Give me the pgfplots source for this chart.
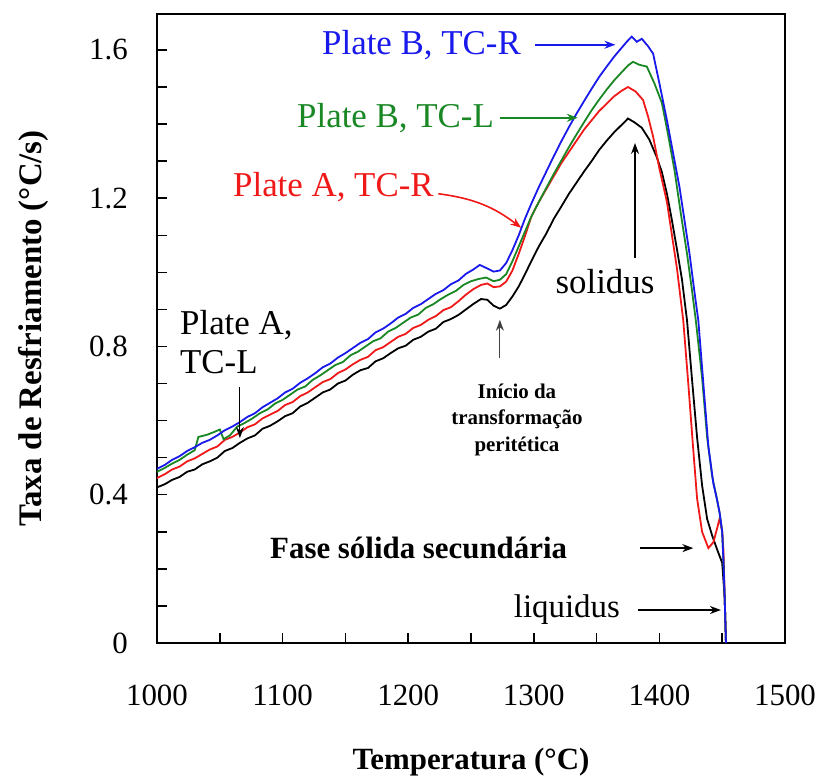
\documentclass[border=0pt]{standalone}
\usepackage{fontspec}
\setmainfont{Liberation Serif}
\usepackage{pgfplots}
\pgfplotsset{compat=1.18}
\usetikzlibrary{arrows.meta}
\definecolor{cblue}{RGB}{25,25,235}
\definecolor{cgreen}{RGB}{25,135,35}
\definecolor{cred}{RGB}{240,25,25}
\tikzset{ar/.style={-{Stealth[length=11bp,width=8bp]}, line width=1.6bp}}
\begin{document}
\begin{tikzpicture}
\path[use as bounding box] (-157bp,-137bp) rectangle (667bp,643bp);
\begin{axis}[
  at={(0,0)}, anchor=south west,
  width=628bp, height=629bp, scale only axis,
  xmin=1000, xmax=1500, ymin=0, ymax=1.697,
  clip=false,
  xtick={1000,1050,1100,1150,1200,1250,1300,1350,1400,1450,1500},
  xticklabels={1000,,1100,,1200,,1300,,1400,,1500},
  ytick={0,0.1,0.2,0.3,0.4,0.5,0.6,0.7,0.8,0.9,1.0,1.1,1.2,1.3,1.4,1.5,1.6},
  yticklabels={0,,,,0.4,,,,0.8,,,,1.2,,,,1.6},
  tick pos=left, tick align=inside,
  major tick length=10bp,
  axis line style={line width=1.5bp},
  every tick/.style={line width=1.5bp, black},
  xticklabel style={font=\fontsize{31}{31}\selectfont, anchor=center, yshift=-52bp},
  yticklabel style={font=\fontsize{31}{31}\selectfont, anchor=east, inner sep=0pt, xshift=-29bp},
  xlabel={Temperatura (°C)},
  ylabel={Taxa de Resfriamento (°C/s)},
  every axis x label/.style={at={(axis description cs:0.5,-0.189)}, anchor=center, font=\bfseries\fontsize{31}{31}\selectfont},
  every axis y label/.style={at={(axis description cs:-0.1975,0.5)}, rotate=90, anchor=center, font=\bfseries\fontsize{33}{33}\selectfont},
]
% Plate A, TC-L (black)
\addplot[black, line width=1.8bp] coordinates {
(1000,0.420)(1006,0.428)(1012,0.440)(1018,0.448)(1024,0.462)(1030,0.468)(1036,0.482)(1042,0.490)(1048,0.500)(1054,0.518)
(1060,0.526)(1066,0.540)(1072,0.552)(1078,0.560)(1084,0.578)(1090,0.586)(1096,0.598)(1102,0.612)(1108,0.620)(1114,0.638)
(1120,0.648)(1126,0.662)(1132,0.676)(1138,0.684)(1144,0.700)(1150,0.708)(1156,0.724)(1162,0.736)(1168,0.742)(1174,0.760)
(1180,0.768)(1186,0.782)(1192,0.795)(1198,0.802)(1204,0.818)(1210,0.826)(1216,0.840)(1222,0.848)(1228,0.866)(1234,0.874)
(1240,0.885)(1246,0.900)(1252,0.915)(1258,0.928)(1263,0.926)(1268,0.910)(1273,0.902)(1278,0.912)(1283,0.935)(1288,0.962)
(1293,0.995)(1298,1.030)(1304,1.070)(1310,1.105)(1316,1.145)(1322,1.178)(1328,1.212)(1334,1.242)(1340,1.272)(1346,1.300)
(1352,1.330)(1358,1.355)(1364,1.378)(1370,1.398)(1375,1.415)(1380,1.405)(1386,1.390)(1392,1.358)(1398,1.310)(1402,1.270)
(1406,1.212)(1410,1.140)(1414,1.062)(1418,0.980)(1422,0.870)(1426,0.710)(1430,0.555)(1434,0.425)(1438,0.335)(1442,0.290)
(1446,0.252)(1450,0.216)(1452,0.120)(1453,0.000)
};
% Plate A, TC-R (red)
\addplot[cred, line width=1.8bp] coordinates {
(1000,0.445)(1006,0.455)(1012,0.468)(1018,0.476)(1024,0.490)(1030,0.498)(1036,0.510)(1042,0.522)(1048,0.530)(1054,0.548)
(1060,0.556)(1066,0.568)(1072,0.582)(1078,0.590)(1084,0.606)(1090,0.616)(1096,0.626)(1102,0.642)(1108,0.650)(1114,0.666)
(1120,0.676)(1126,0.690)(1132,0.704)(1138,0.712)(1144,0.728)(1150,0.738)(1156,0.752)(1162,0.764)(1168,0.772)(1174,0.790)
(1180,0.798)(1186,0.812)(1192,0.826)(1198,0.834)(1204,0.850)(1210,0.858)(1216,0.872)(1222,0.882)(1228,0.898)(1234,0.906)
(1240,0.922)(1246,0.940)(1252,0.955)(1258,0.966)(1263,0.970)(1268,0.960)(1273,0.962)(1278,0.975)(1283,1.005)(1288,1.050)
(1293,1.098)(1298,1.150)(1304,1.190)(1310,1.225)(1316,1.260)(1322,1.295)(1328,1.325)(1334,1.355)(1340,1.385)(1346,1.410)
(1352,1.435)(1358,1.455)(1364,1.475)(1370,1.490)(1375,1.500)(1381,1.488)(1387,1.465)(1391,1.420)(1395,1.366)(1400,1.280)
(1406,1.190)(1410,1.100)(1414,1.010)(1419,0.870)(1423,0.700)(1427,0.520)(1430,0.390)(1434,0.300)(1439,0.256)(1443,0.272)
(1446,0.310)(1448,0.337)(1450,0.300)(1451,0.250)(1452,0.120)(1453,0.000)
};
% Plate B, TC-L (green)
\addplot[cgreen, line width=1.8bp] coordinates {
(1000,0.462)(1006,0.472)(1012,0.484)(1018,0.494)(1024,0.508)(1030,0.520)(1033,0.556)(1040,0.562)(1046,0.570)(1050,0.576)
(1053,0.550)(1058,0.560)(1064,0.584)(1070,0.594)(1076,0.606)(1082,0.620)(1088,0.630)(1094,0.646)(1100,0.656)(1106,0.670)
(1112,0.684)(1118,0.692)(1124,0.710)(1130,0.722)(1136,0.736)(1142,0.750)(1148,0.758)(1154,0.776)(1160,0.786)(1166,0.800)
(1172,0.814)(1178,0.822)(1184,0.840)(1190,0.850)(1196,0.864)(1202,0.878)(1208,0.886)(1214,0.904)(1220,0.914)(1226,0.928)
(1232,0.940)(1238,0.950)(1244,0.966)(1250,0.976)(1256,0.982)(1262,0.986)(1268,0.976)(1273,0.980)(1278,0.995)(1283,1.030)
(1288,1.070)(1293,1.110)(1298,1.150)(1304,1.190)(1310,1.228)(1316,1.266)(1322,1.302)(1328,1.338)(1334,1.372)(1340,1.405)
(1346,1.437)(1352,1.466)(1358,1.493)(1364,1.518)(1370,1.540)(1375,1.558)(1379,1.568)(1384,1.560)(1390,1.555)(1396,1.510)
(1402,1.457)(1407,1.370)(1412,1.276)(1417,1.160)(1422,1.050)(1426,0.950)(1429,0.870)(1434,0.715)(1438,0.555)(1442,0.450)
(1446,0.385)(1448,0.350)(1450,0.300)(1451,0.220)(1452,0.120)(1453,0.000)
};
% Plate B, TC-R (blue)
\addplot[cblue, line width=1.8bp] coordinates {
(1000,0.470)(1006,0.480)(1012,0.494)(1018,0.504)(1024,0.518)(1030,0.528)(1036,0.540)(1042,0.548)(1048,0.560)(1054,0.574)
(1060,0.584)(1066,0.596)(1072,0.610)(1078,0.620)(1084,0.636)(1090,0.648)(1096,0.660)(1102,0.676)(1108,0.686)(1114,0.702)
(1120,0.714)(1126,0.728)(1132,0.744)(1138,0.754)(1144,0.770)(1150,0.782)(1156,0.796)(1162,0.810)(1168,0.820)(1174,0.838)
(1180,0.848)(1186,0.862)(1192,0.878)(1198,0.888)(1204,0.904)(1210,0.914)(1216,0.928)(1222,0.942)(1228,0.952)(1234,0.968)
(1240,0.978)(1246,0.996)(1252,1.008)(1257,1.020)(1262,1.012)(1268,1.002)(1273,1.005)(1278,1.025)(1283,1.060)(1288,1.100)
(1293,1.145)(1298,1.185)(1304,1.230)(1310,1.272)(1316,1.314)(1322,1.354)(1328,1.392)(1334,1.428)(1340,1.462)(1346,1.495)
(1352,1.527)(1358,1.555)(1364,1.582)(1369,1.602)(1374,1.622)(1378,1.636)(1382,1.622)(1386,1.630)(1391,1.610)(1395,1.590)
(1400,1.510)(1406,1.410)(1411,1.320)(1416,1.230)(1420,1.140)(1424,1.050)(1428,0.945)(1431,0.870)(1435,0.700)(1439,0.530)
(1443,0.430)(1446,0.385)(1448,0.350)(1450,0.300)(1451,0.220)(1452,0.120)(1453,0.000)
};
% annotations
\node[anchor=west, text=cblue, font=\fontsize{35}{35}\selectfont, inner sep=0pt] at (axis cs:1131.4,1.614) {Plate B, TC-R};
\draw[ar, cblue] (axis cs:1301,1.614) -- (axis cs:1365,1.614);
\node[anchor=west, text=cgreen, font=\fontsize{35}{35}\selectfont, inner sep=0pt] at (axis cs:1111.5,1.417) {Plate B, TC-L};
\draw[ar, cgreen] (axis cs:1273,1.417) -- (axis cs:1335,1.417);
\node[anchor=west, text=cred, font=\fontsize{35}{35}\selectfont, inner sep=0pt] at (axis cs:1060.5,1.23) {Plate A, TC-R};
\draw[ar, cred] (axis cs:1224,1.212) to[bend left=15] (axis cs:1290,1.12);
\node[anchor=west, align=left, font=\fontsize{35}{40}\selectfont, inner sep=0pt] at (axis cs:1018.3,0.812) {Plate A,\\TC-L};
\draw[ar, line width=1.2bp] (axis cs:1066,0.69) -- (axis cs:1066,0.553);
\node[font=\fontsize{35}{35}\selectfont, inner sep=0pt] at (axis cs:1356.7,0.974) {solidus};
\draw[ar] (axis cs:1380.6,1.039) -- (axis cs:1380.6,1.349);
\node[align=center, font=\bfseries\fontsize{21}{27}\selectfont, inner sep=0pt] at (axis cs:1286.6,0.602) {Início da\\transformação\\peritética};
\draw[ar, line width=1.1bp, black!75] (axis cs:1273,0.769) -- (axis cs:1273,0.872);
\node[anchor=west, font=\bfseries\fontsize{31}{31}\selectfont, inner sep=0pt] at (axis cs:1090,0.256) {Fase sólida secundária};
\draw[ar] (axis cs:1384.5,0.256) -- (axis cs:1427,0.256);
\node[anchor=west, font=\fontsize{33}{33}\selectfont, inner sep=0pt] at (axis cs:1284,0.089) {liquidus};
\draw[ar] (axis cs:1383,0.089) -- (axis cs:1449,0.089);
\end{axis}
\end{tikzpicture}
\end{document}
